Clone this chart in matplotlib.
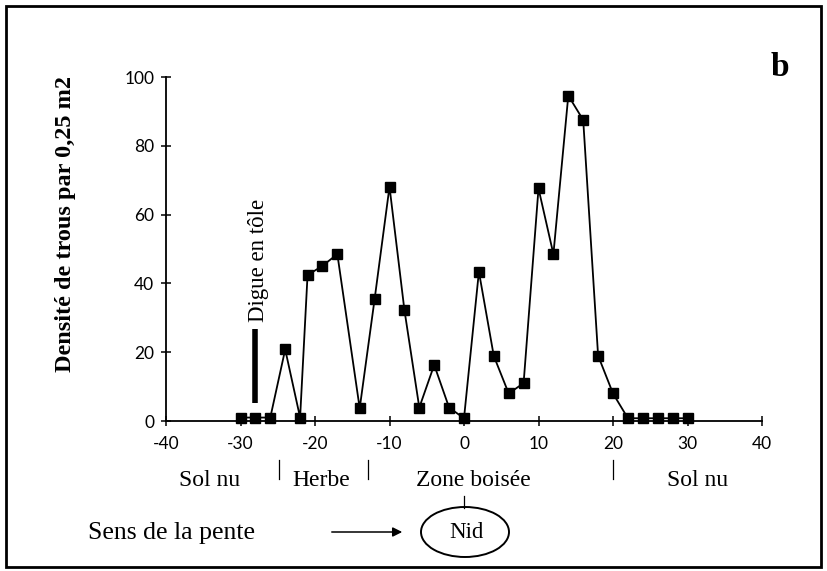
import matplotlib
matplotlib.use("Agg")
import matplotlib.pyplot as plt
from matplotlib.patches import Ellipse, Rectangle, FancyArrowPatch

plt.rcParams["axes.unicode_minus"] = False

# distance (m) and hole density per 0.25 m2
distance = [-30, -28, -26, -24, -22, -21, -19, -17, -14, -12, -10, -8, -6, -4, -2,
            0, 2, 4, 6, 8, 10, 12, 14, 16, 18, 20, 22, 24, 26, 28, 30]
densite = [1, 1, 1, 20.8, 1, 42.4, 45.1, 48.5, 3.7, 35.4, 68.1, 32.3, 3.9, 16.3, 3.9,
           0.8, 43.4, 18.9, 8.0, 11.0, 67.6, 48.5, 94.6, 87.5, 19.0, 8.0, 0.8, 0.8, 0.8, 0.8, 0.8]

xticks = [-40, -30, -20, -10, 0, 10, 20, 30, 40]
yticks = [0, 20, 40, 60, 80, 100]

zones = ["Sol nu", "Herbe", "Zone boisée", "Sol nu"]
zone_centres = [-34.1, -19.1, 1.3, 31.3]
zone_limits = [-24.8, -12.9, 20.0]
digue_x = -28

serif = "Liberation Serif"
W, H = 827, 571

fig = plt.figure(figsize=(W / 100, H / 100), dpi=100)
ax = fig.add_axes([166 / W, 1 - 421 / H, (762 - 166) / W, (421 - 77) / H])

ax.plot(distance, densite, color="black", lw=1.3, marker="s", ms=6.5,
        markerfacecolor="black", markeredgecolor="black", clip_on=False, zorder=3)

ax.set_xlim(-40, 40)
ax.set_ylim(0, 100)
ax.set_xticks(xticks)
ax.set_yticks(yticks)
for s in ["top", "right"]:
    ax.spines[s].set_visible(False)
ax.spines["left"].set_linewidth(1.3)
ax.spines["bottom"].set_linewidth(1.3)
ax.tick_params(direction="inout", length=7, width=1.1, labelsize=12.5)
for lab in ax.get_xticklabels() + ax.get_yticklabels():
    lab.set_family("Lato")
ax.tick_params(axis="x", pad=7)
ax.tick_params(axis="y", pad=5)

# digue marker
ax.plot([digue_x, digue_x], [5.2, 26.7], color="black", lw=4, solid_capstyle="butt")
ax.text(digue_x + 0.4, 28.8, "Digue en tôle", rotation=90, ha="center", va="bottom",
        family=serif, fontsize=16.5)

# zone labels below axis
xt = ax.get_xaxis_transform()
for name, xc in zip(zones, zone_centres):
    ax.text(xc, -0.189, name, transform=xt, ha="center", va="baseline",
            family=serif, fontsize=17, clip_on=False)
for xl in zone_limits:
    ax.plot([xl, xl], [-0.113, -0.169], transform=xt, color="black", lw=0.9,
            clip_on=False)
ax.plot([0, 0], [-0.218, -0.253], transform=xt, color="black", lw=0.9, clip_on=False)

# y label and panel letter
fig.text(66 / W, 1 - 224 / H, "Densité de trous par 0,25 m2", rotation=90,
         ha="center", va="center", family=serif, fontsize=17.5, fontweight="bold")
fig.text(780 / W, 1 - 68 / H, "b", ha="center", va="center", family=serif,
         fontsize=24, fontweight="bold")

# slope direction and nest
fig.text(172 / W, 1 - 539 / H, "Sens de la pente", ha="center", va="baseline",
         family=serif, fontsize=18.5)
fig.add_artist(FancyArrowPatch(
    (329 / W, 1 - 532 / H), (405 / W, 1 - 532 / H), transform=fig.transFigure,
    arrowstyle="-|>", mutation_scale=14, color="black", lw=1.1))
fig.add_artist(Ellipse((465 / W, 1 - 532 / H), 88 / W, 50 / H, transform=fig.transFigure,
                       fill=False, edgecolor="black", lw=1.4))
fig.text(466 / W, 1 - 538 / H, "Nid", ha="center", va="baseline", family=serif,
         fontsize=16.5)

# outer frame
fig.add_artist(Rectangle((6 / W, 4 / H), (W - 12) / W, (H - 10) / H,
                         transform=fig.transFigure, fill=False, edgecolor="black", lw=2))

fig.savefig("out.png", dpi=100)
